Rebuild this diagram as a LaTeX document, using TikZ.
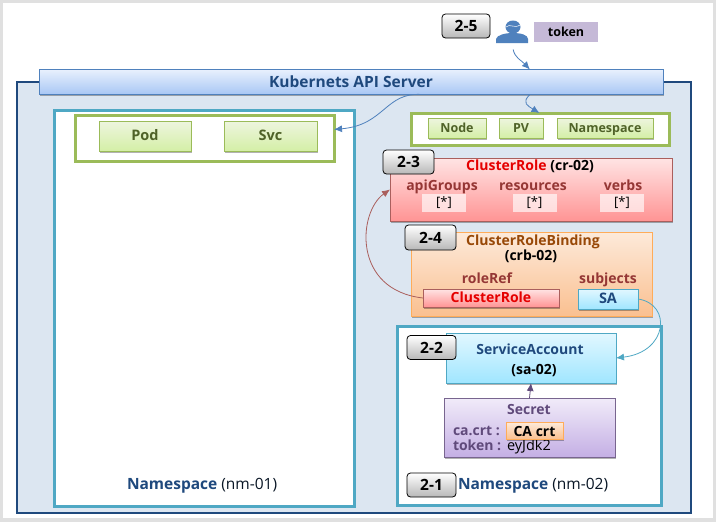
\documentclass[tikz,border=0pt]{standalone}
\usepackage{fontspec}
\setmainfont{Open Sans}
\usetikzlibrary{arrows.meta,shadows}

\definecolor{navy}{HTML}{1F497D}
\definecolor{panelblue}{HTML}{DCE6F1}
\definecolor{nscyan}{HTML}{4FA8C4}
\definecolor{olive}{HTML}{9BBB59}
\definecolor{darkolive}{HTML}{4F6228}
\definecolor{brick}{HTML}{953735}
\definecolor{plum}{HTML}{604A7B}
\definecolor{umber}{HTML}{984807}
\definecolor{steel}{HTML}{4F81BD}
\definecolor{tokenfill}{HTML}{C5B9D7}
\definecolor{grntop}{HTML}{EEF5DF}
\definecolor{grnbot}{HTML}{D4EFA6}
\definecolor{redtop}{HTML}{FFE4E4}
\definecolor{redbot}{HTML}{FF9494}
\definecolor{orgtop}{HTML}{FDEADA}
\definecolor{orgbot}{HTML}{FAC090}
\definecolor{blutop}{HTML}{E2F7FF}
\definecolor{blubot}{HTML}{A0E6FF}
\definecolor{viotop}{HTML}{F1EBF9}
\definecolor{viobot}{HTML}{C4AFE4}
\definecolor{apitop}{HTML}{E8F0FD}
\definecolor{apibot}{HTML}{A8C7F5}

\tikzset{
  shadowed/.style={drop shadow={shadow xshift=1pt,shadow yshift=-1.5pt,opacity=.3,fill=black}},
  plain/.style={inner sep=0pt,outer sep=0pt},
  txt/.style={plain,text height=10pt,text depth=3pt,font=\bfseries\fontsize{14}{16}\selectfont},
  badge/.style={plain,draw=black,line width=.8pt,rounded corners=3.5pt,top color=white,bottom color=black!28,
                font=\bfseries\fontsize{15.5}{18}\selectfont},
  ftbox/.style={plain,draw=nscyan,line width=3pt,fill=white},
  grpbox/.style={plain,draw=olive,line width=3pt,fill=white},
  resbox/.style={plain,shadowed,draw=olive,line width=.7pt,top color=grntop,bottom color=grnbot,
                 text height=10pt,text depth=1.5pt,text=darkolive,font=\bfseries\fontsize{14.5}{16}\selectfont},
  redbox/.style={plain,shadowed,draw=brick!80!white,line width=.7pt,top color=redtop,bottom color=redbot},
  orgbox/.style={plain,shadowed,draw=orange!65!white,line width=.7pt,top color=orgtop,bottom color=orgbot},
  bluebox/.style={plain,shadowed,draw=nscyan,line width=.7pt,top color=blutop,bottom color=blubot},
  violetbox/.style={plain,shadowed,draw=plum!85!white,line width=.7pt,top color=viotop,bottom color=viobot},
  starbox/.style={plain,fill=white,fill opacity=.65,text opacity=1,minimum width=44,minimum height=18,
               font=\fontsize{13}{15}\selectfont},
  tip/.style={line width=.8pt,-{Latex[length=8pt,width=7pt]}},
}

\begin{document}
\begin{tikzpicture}[x=1pt,y=-1pt]
        \useasboundingbox (0,0) rectangle (716,522);
        \fill[black!12] (0,0) rectangle (716,522);
        \fill[white] (3,3) rectangle (713,518);

        \draw[navy,line width=1.8pt,fill=panelblue] (17,82) rectangle (691,513);

        % api server
        \node[plain,shadowed,draw=steel,line width=.8pt,top color=apitop,bottom color=apibot,
              minimum width=624,minimum height=25,text=navy,font=\bfseries\fontsize{15.5}{18}\selectfont]
              (api) at (351,82) {Kubernets API Server};

        % namespaces
        \node[ftbox,minimum width=300,minimum height=396] (nm01) at (204,308) {};
        \node[ftbox,minimum width=264,minimum height=179] (nm02) at (529,415.5) {};
        \node[txt,text=navy,anchor=west,font=\bfseries\fontsize{15.5}{18}\selectfont] (nm01name) at (127,485.5)
              {Namespace \textmd{\textcolor{black!70!navy}{(nm-01)}}};
        \node[txt,text=navy,anchor=west,font=\bfseries\fontsize{15.5}{18}\selectfont] (nm02name) at (458,485.5)
              {Namespace \textmd{\textcolor{black!70!navy}{(nm-02)}}};

        % namespaced and cluster resources
        \node[grpbox,minimum width=259,minimum height=46] (nsres) at (204.5,138.5) {};
        \node[resbox,minimum width=92,minimum height=30] (pod) at (145,136) {Pod};
        \node[resbox,minimum width=93,minimum height=30] (svc) at (270.5,136) {Svc};

        \node[grpbox,minimum width=258,minimum height=32] (clres) at (540,129) {};
        \node[resbox,minimum width=58,minimum height=20,font=\bfseries\fontsize{12.5}{14}\selectfont] (nodebox) at (457,128) {Node};
        \node[resbox,minimum width=44,minimum height=20,font=\bfseries\fontsize{12.5}{14}\selectfont] (pvbox) at (521,128) {PV};
        \node[resbox,minimum width=96,minimum height=20,font=\bfseries\fontsize{12.5}{14}\selectfont] (nsbox) at (605,128) {Namespace};

        % cluster role
        \node[redbox,minimum width=282,minimum height=63] (cr) at (531,189.5) {};
        \node[txt] (crname) at (530,167) {\textcolor{red!90!black}{ClusterRole} (cr-02)};
        \node[txt,text=brick] (apig) at (442,187) {apiGroups};
        \node[txt,text=brick] (resrc) at (533,187) {resources};
        \node[txt,text=brick] (verbs) at (623,187) {verbs};
        \node[starbox] (star1) at (444,203) {[*]};
        \node[starbox] (star2) at (534.5,203) {[*]};
        \node[starbox] (star3) at (622,203) {[*]};

        % binding
        \node[orgbox,minimum width=241,minimum height=84] (crb) at (531.5,274) {};
        \node[txt,text=umber] (crbname) at (533,242) {ClusterRoleBinding};
        \node[txt] (crbid) at (531,256.5) {(crb-02)};
        \node[txt,text=brick] (roleref) at (487,280) {roleRef};
        \node[txt,text=brick] (subj) at (608,280) {subjects};
        \node[redbox,minimum width=136,minimum height=18,text height=10pt,text depth=1.5pt,text=red!90!black,
              font=\bfseries\fontsize{14}{16}\selectfont] (crref) at (491,298) {ClusterRole};
        \node[bluebox,minimum width=60,minimum height=20,text height=10pt,text depth=1.5pt,text=navy,
              font=\bfseries\fontsize{14.5}{16}\selectfont] (saref) at (608,299) {SA};

        % service account and secret
        \node[bluebox,minimum width=170,minimum height=50] (sa) at (531,358) {};
        \node[txt,text=navy] (saname) at (530,350.5) {ServiceAccount};
        \node[txt] (said) at (534,370.5) {(sa-02)};
        \node[violetbox,minimum width=171,minimum height=59] (secret) at (529.5,427.5) {};
        \node[txt,text=plum] (secname) at (529,410.5) {Secret};
        \node[txt,text=plum,anchor=west] (cacrt) at (453,431.5) {ca.crt :};
        \node[txt,text=plum,anchor=west] (tokenkey) at (453,447) {token :};
        \node[txt,anchor=west,font=\fontsize{14.5}{16}\selectfont] (tokenval) at (507,447) {eyJdk2};
        \node[orgbox,minimum width=57,minimum height=17,text height=12pt,text depth=0pt,font=\bfseries\fontsize{14}{16}\selectfont] (cabox) at (534.5,430.5) {CA crt};

        % user
        \fill[steel] (496,43) -- (496,39) .. controls (497,35) and (505,33) .. (513,33)
              .. controls (521,33) and (528,35) .. (528,39) -- (528,43) -- cycle;
        \fill[steel] (513,27) ellipse (7.5 and 6.5);
        \draw[white,line width=.5pt] (506,27) .. controls (510,23) and (514,29) .. (520,25);
        \node[plain] (user) at (513,49) {};
        \node[plain,fill=tokenfill,minimum width=64,minimum height=20,font=\bfseries\fontsize{12.5}{14}\selectfont]
              (token) at (566,32) {token};

        % connectors
        \draw[steel,tip] (user) .. controls (515,58) and (521,60) .. (api.4);
        \draw[steel,tip] (api.-4.3) .. controls (521,103) and (528,106) .. (clres.92);
        \draw[steel,tip] (api.-10.6) .. controls (385,92) and (385,125) .. (nsres.4.4);
        \draw[brick!80!white,tip] (crref.west) .. controls (352,290) and (358,212) .. (cr.west);
        \draw[nscyan,tip] (saref.east) .. controls (672,304) and (668,352) .. (sa.east);
        \draw[plum,tip] (secret.north) -- (sa.south);

        % step badges
        \node[badge,minimum width=48,minimum height=24] (b25) at (466,26) {2-5};
        \node[badge,minimum width=51,minimum height=24] (b23) at (408.5,162) {2-3};
        \node[badge,minimum width=51,minimum height=25] (b24) at (430.5,237.5) {2-4};
        \node[badge,minimum width=49,minimum height=24] (b22) at (431.5,347.5) {2-2};
        \node[badge,minimum width=49,minimum height=24] (b21) at (431.5,485) {2-1};
\end{tikzpicture}
\end{document}
